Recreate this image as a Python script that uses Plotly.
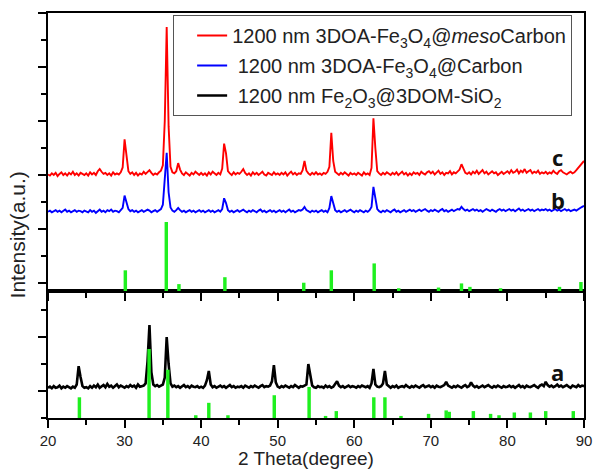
import plotly.graph_objects as go

# ---------------- data ----------------
# 2-theta sampling grid: 20.00 .. 90.00 deg, step 0.25 deg (281 points)
theta_start = 20.0
theta_step = 0.25
n_points = 281
two_theta = [theta_start + i * theta_step for i in range(n_points)]

# c: 1200 nm 3DOA-Fe3O4@mesoCarbon (red, upper panel, a.u.)
red_c = [
    201,199,203,200,204,198,202,205,200,203,199,204,201,206,200,203,199,204,202,200,
    203,199,205,201,204,200,207,211,206,202,204,200,203,199,205,201,203,201,205,214,
    266,240,207,202,205,200,204,199,203,201,206,202,205,209,204,200,203,201,205,208,
    218,300,474,290,215,205,203,207,222,210,203,200,205,202,199,204,201,206,202,200,
    204,200,203,199,205,201,206,202,200,204,201,212,258,240,207,203,200,205,201,204,
    202,206,211,204,200,203,199,205,201,204,200,203,206,201,199,204,202,200,205,201,
    203,200,204,201,205,199,203,206,201,204,200,203,202,209,226,208,203,200,204,201,
    205,201,203,200,204,202,206,215,278,226,206,203,200,204,201,205,202,199,204,201,
    203,200,204,202,199,205,201,203,200,213,305,250,207,203,200,204,201,205,202,200,
    204,201,205,200,203,206,201,204,199,203,200,205,202,204,200,206,203,201,205,207,
    203,206,201,204,208,202,205,200,204,203,207,201,205,203,206,210,220,210,204,202,
    205,201,206,203,208,202,205,209,203,206,201,204,207,203,205,200,204,206,202,205,
    207,203,209,204,206,210,203,208,205,211,204,207,209,203,206,204,208,202,205,203,
    206,202,205,203,208,204,202,207,209,205,203,201,204,206,203,205,209,213,218,222,
    226,
]

# b: 1200 nm 3DOA-Fe3O4@Carbon (blue, upper panel, a.u.)
blue_b = [
    132,134,131,133,135,132,134,131,133,136,132,134,131,133,135,132,134,133,131,134,
    133,131,135,132,134,130,133,136,132,134,131,135,133,136,132,134,133,131,135,139,
    162,150,137,133,135,132,134,131,133,135,132,134,136,134,131,133,135,132,134,137,
    145,185,241,168,140,134,132,135,139,135,132,134,131,133,135,132,134,131,133,135,
    132,134,131,133,135,132,134,131,133,135,132,137,157,148,135,132,134,131,133,135,
    132,134,136,133,131,134,132,135,133,131,134,136,132,134,131,133,135,132,134,131,
    133,135,132,134,131,133,136,132,134,131,133,135,134,136,141,135,133,131,134,132,
    134,131,133,135,132,134,131,139,161,146,135,132,134,131,133,135,132,134,136,133,
    131,134,132,135,133,131,134,132,135,141,178,158,137,133,131,134,132,135,133,131,
    134,136,132,134,131,133,135,132,134,136,133,135,132,134,136,133,135,137,134,132,
    135,133,136,134,132,135,137,133,135,132,134,136,133,135,137,136,141,137,134,136,
    133,135,137,134,136,133,135,132,134,137,135,133,136,134,132,135,137,134,136,133,
    135,137,134,136,133,135,138,134,136,133,135,137,134,136,133,135,137,134,136,135,
    137,134,136,133,135,137,134,136,133,135,137,134,136,133,135,136,134,137,139,141,
    143,
]

# a: 1200 nm Fe2O3@3DOM-SiO2 (black, lower panel, a.u.)
black_a = [
    6,8,5,9,6,7,10,5,8,6,9,7,5,8,6,12,46,26,9,6,
    7,5,9,6,10,7,12,6,9,11,7,13,8,10,6,9,12,7,10,8,
    6,9,7,11,8,10,6,12,8,9,10,14,55,122,35,12,9,11,8,10,
    12,25,100,50,14,8,10,7,9,6,8,11,7,9,6,10,8,7,9,6,
    8,6,10,20,37,12,7,9,6,8,10,7,9,6,8,11,7,9,6,8,
    7,9,6,10,8,6,9,7,10,8,6,9,11,7,9,8,10,18,48,16,
    8,6,9,7,10,8,6,9,7,11,8,6,9,8,10,12,50,28,10,7,
    6,9,7,8,6,10,7,9,6,8,12,18,10,7,9,6,8,10,7,9,
    8,6,9,7,10,8,7,9,6,14,41,12,8,7,9,14,37,12,8,6,
    9,7,10,6,8,9,7,11,8,6,9,7,10,8,6,9,11,7,8,10,
    7,9,6,10,8,7,9,11,17,10,8,6,9,7,10,8,6,9,11,7,
    9,16,10,7,9,6,8,10,7,9,11,8,6,9,7,10,8,6,9,7,
    8,10,7,9,6,8,11,7,9,6,10,8,7,9,11,8,6,10,12,9,
    17,11,8,10,7,9,12,8,10,7,9,11,8,6,10,9,7,11,8,10,
    9,
]

# reference pattern sticks (relative intensity, %)
fe3o4_ref_pos = [30.1, 35.45, 37.1, 43.1, 53.4, 57.0, 62.6, 65.8, 71.0, 74.0, 75.1, 79.1, 86.8, 89.6]
fe3o4_ref_int = [30, 100, 10, 20, 12, 30, 40, 4, 5, 11, 6, 4, 6, 13]

fe2o3_ref_pos = [24.1, 33.2, 35.65, 39.3, 41.0, 43.5, 49.55, 54.1, 56.25, 57.65, 62.55, 64.0, 66.1,
                 69.7, 72.0, 72.4, 75.55, 77.8, 78.9, 80.9, 83.0, 85.0, 88.6]
fe2o3_ref_int = [30, 100, 70, 4, 22, 4, 33, 45, 3, 10, 30, 30, 3,
                 6, 11, 9, 10, 6, 4, 8, 8, 10, 10]

legend_names = [
    "1200 nm 3DOA-Fe<sub>3</sub>O<sub>4</sub>@<i>meso</i>Carbon",
    "\u00a01200 nm 3DOA-Fe<sub>3</sub>O<sub>4</sub>@Carbon",
    "\u00a01200 nm Fe<sub>2</sub>O<sub>3</sub>@3DOM-SiO<sub>2</sub>",
]
curve_labels = ["c", "b", "a"]
x_tick_values = [20, 30, 40, 50, 60, 70, 80, 90]

# ---------------- figure ----------------
GREEN = "#1ff01f"
FONT = "Liberation Sans, Arial, sans-serif"

fig = go.Figure()

fig.add_trace(go.Scatter(x=two_theta, y=red_c, mode="lines", name=legend_names[0],
                         line=dict(color="#ff0000", width=1.9), xaxis="x2", yaxis="y",
                         legendgroup="c"))
fig.add_trace(go.Scatter(x=two_theta, y=blue_b, mode="lines", name=legend_names[1],
                         line=dict(color="#0000ff", width=1.9), xaxis="x2", yaxis="y",
                         legendgroup="b"))
fig.add_trace(go.Scatter(x=two_theta, y=black_a, mode="lines", name=legend_names[2],
                         line=dict(color="#000000", width=2.6), xaxis="x", yaxis="y2",
                         legendgroup="a"))

fig.add_trace(go.Bar(x=fe3o4_ref_pos, y=fe3o4_ref_int, width=0.45, marker=dict(color=GREEN, line=dict(width=0)),
                     xaxis="x2", yaxis="y3", showlegend=False))
fig.add_trace(go.Bar(x=fe2o3_ref_pos, y=fe2o3_ref_int, width=0.45, marker=dict(color=GREEN, line=dict(width=0)),
                     xaxis="x", yaxis="y4", showlegend=False))

axis_common = dict(showline=True, linecolor="black", linewidth=1.5, mirror=True,
                   ticks="outside", tickcolor="black", tickwidth=1.5, showgrid=False, zeroline=False)

split = 127 / 405

fig.update_layout(
    width=603, height=470,
    margin=dict(l=48, r=11, t=13, b=52),
    paper_bgcolor="white", plot_bgcolor="white",
    barmode="overlay",
    font=dict(family=FONT, color="#222"),
    xaxis=dict(domain=[0, 1], anchor="y2", range=[20, 90], tickmode="array", tickvals=x_tick_values,
               ticklen=8, ticklabelstandoff=0,
               minor=dict(dtick=5, tick0=20, ticks="outside", ticklen=5, tickcolor="black", tickwidth=1.5),
               tickfont=dict(size=15, color="#222"), **axis_common),
    xaxis2=dict(domain=[0, 1], anchor="y", matches="x", range=[20, 90], tickmode="array", tickvals=x_tick_values,
                ticklen=8, showticklabels=False,
                minor=dict(dtick=5, tick0=20, ticks="outside", ticklen=5, tickcolor="black", tickwidth=1.5),
                **axis_common),
    yaxis=dict(domain=[split, 1], anchor="x2", range=[-14.8, 500], tickmode="linear", tick0=0, dtick=100,
               ticklen=8, showticklabels=False,
               minor=dict(dtick=50, tick0=0, ticks="outside", ticklen=5, tickcolor="black", tickwidth=1.5),
               **axis_common),
    yaxis2=dict(domain=[0, split], anchor="x", range=[-50, 185.2], tickmode="linear", tick0=0, dtick=100,
                ticklen=8, showticklabels=False,
                minor=dict(dtick=50, tick0=0, ticks="outside", ticklen=5, tickcolor="black", tickwidth=1.5),
                **axis_common),
    yaxis3=dict(overlaying="y", anchor="x2", range=[0, 403], visible=False),
    yaxis4=dict(overlaying="y2", anchor="x", range=[0, 184], visible=False),
    legend=dict(x=(175 - 48) / 544, y=(418 - 15) / 405, xanchor="left", yanchor="top",
                bgcolor="white", bordercolor="#555", borderwidth=1,
                font=dict(size=20, color="#222", family=FONT), tracegroupgap=1, indentation=18),
    showlegend=True,
)

fig.add_annotation(text="2 Theta(degree)", xref="paper", yref="paper", x=(309.5 - 48) / 544, y=(418 - 469.5) / 405,
                   xanchor="center", yanchor="bottom", showarrow=False, borderpad=0,
                   font=dict(size=19, color="#222"))
fig.add_annotation(text="Intensity(a.u.)", xref="paper", yref="paper", x=(17 - 48) / 544, y=(418 - 235) / 405,
                   xanchor="center", yanchor="middle", textangle=-90, showarrow=False,
                   font=dict(size=21, color="#222"))

label_font = dict(size=22, color="#111", family="Open Sans, sans-serif")
fig.add_annotation(text="<b>%s</b>" % curve_labels[0], x=86.6, y=233, xref="x2", yref="y",
                   showarrow=False, font=label_font)
fig.add_annotation(text="<b>%s</b>" % curve_labels[1], x=86.6, y=154, xref="x2", yref="y",
                   showarrow=False, font=label_font)
fig.add_annotation(text="<b>%s</b>" % curve_labels[2], x=86.6, y=35, xref="x", yref="y2",
                   showarrow=False, font=label_font)

fig.write_html("out.html", config={"displayModeBar": False},
               post_script="document.body.style.margin='0';")
